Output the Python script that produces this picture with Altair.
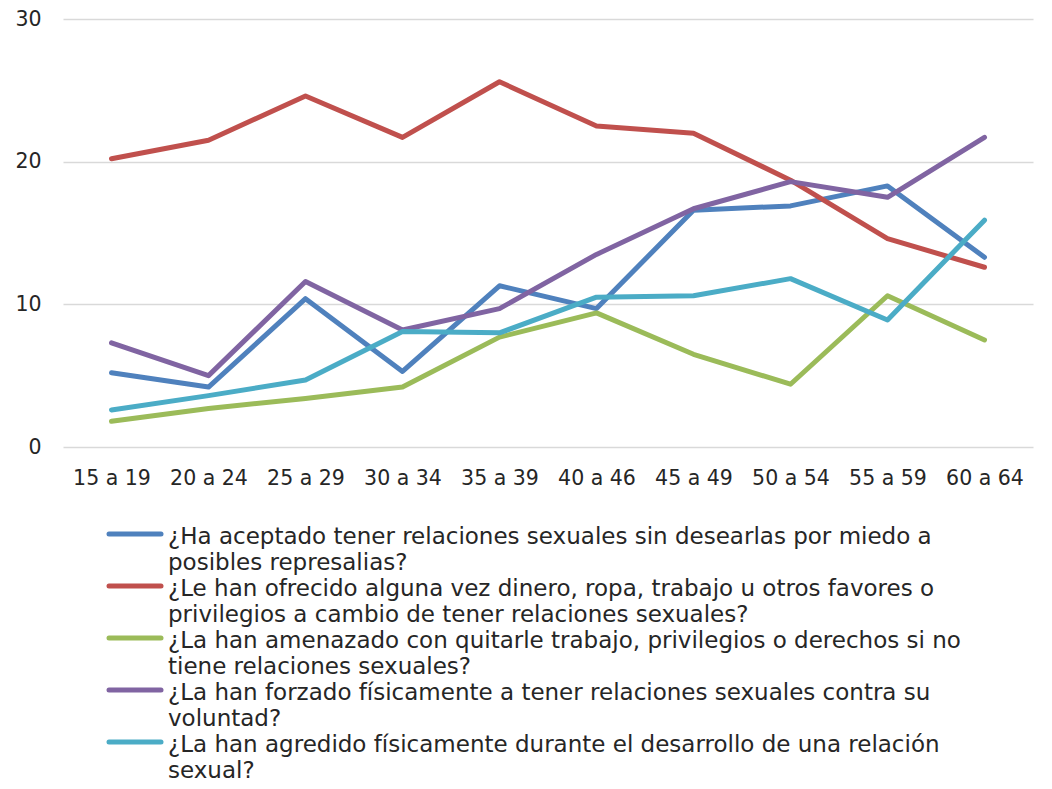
import altair as alt
import pandas as pd

categories = ["15 a 19", "20 a 24", "25 a 29", "30 a 34", "35 a 39",
              "40 a 46", "45 a 49", "50 a 54", "55 a 59", "60 a 64"]

series_names = [
    "¿Ha aceptado tener relaciones sexuales sin desearlas por miedo a|posibles represalias?",
    "¿Le han ofrecido alguna vez dinero, ropa, trabajo u otros favores o|privilegios a cambio de tener relaciones sexuales?",
    "¿La han amenazado con quitarle trabajo, privilegios o derechos si no|tiene relaciones sexuales?",
    "¿La han forzado físicamente a tener relaciones sexuales contra su|voluntad?",
    "¿La han agredido físicamente durante el desarrollo de una relación|sexual?",
]

aceptado = [5.2, 4.2, 10.4, 5.3, 11.3, 9.7, 16.6, 16.9, 18.3, 13.3]
ofrecido = [20.2, 21.5, 24.6, 21.7, 25.6, 22.5, 22.0, 18.7, 14.6, 12.6]
amenazado = [1.8, 2.7, 3.4, 4.2, 7.7, 9.4, 6.5, 4.4, 10.6, 7.5]
forzado = [7.3, 5.0, 11.6, 8.2, 9.7, 13.5, 16.7, 18.6, 17.5, 21.7]
agredido = [2.6, 3.6, 4.7, 8.1, 8.0, 10.5, 10.6, 11.8, 8.9, 15.9]

colors = ["#4f81bd", "#c0504d", "#9bbb59", "#8064a2", "#4bacc6"]

rows = []
for name, vals in zip(series_names, [aceptado, ofrecido, amenazado, forzado, agredido]):
    for c, v in zip(categories, vals):
        rows.append({"grupo": c, "valor": v, "serie": name})
df = pd.DataFrame(rows)
legend_df = pd.DataFrame({"serie": series_names})

FONT = "DejaVu Sans"
TXT = "#262626"

color_enc = alt.Color("serie:N", sort=series_names,
                      scale=alt.Scale(domain=series_names, range=colors),
                      legend=None)

lines = alt.Chart(df).mark_line(strokeWidth=5, strokeCap="round", strokeJoin="round").encode(
    x=alt.X("grupo:O", sort=categories, title=None,
            scale=alt.Scale(type="point", padding=0.5),
            axis=alt.Axis(labelAngle=0, domain=False, ticks=False, grid=False,
                          labelPadding=21, labelFontSize=20.5, labelColor=TXT, labelFont=FONT)),
    y=alt.Y("valor:Q", title=None,
            scale=alt.Scale(domain=[0, 30], nice=False),
            axis=alt.Axis(values=[0, 10, 20, 30], domain=False, ticks=False,
                          gridColor="#d9d9d9", gridWidth=1.5,
                          labelPadding=22, labelFontSize=20.5, labelColor=TXT, labelFont=FONT)),
    color=color_enc,
)

leg_y = alt.Y("serie:N", sort=series_names, axis=None,
              scale=alt.Scale(type="point", range=[515, 723], padding=0))

leg_sym = alt.Chart(legend_df).mark_rule(strokeWidth=5, strokeCap="round").encode(
    x=alt.value(46), x2=alt.value(98), y=leg_y, color=color_enc,
)
leg_txt = alt.Chart(legend_df).mark_text(
    align="left", baseline="top", dy=-8, lineBreak="|", lineHeight=26,
    font=FONT, fontSize=23, color=TXT,
).encode(
    x=alt.value(105), y=leg_y, text="serie:N",
)

legend = alt.layer(leg_sym, leg_txt)

chart = alt.layer(lines, legend).resolve_scale(y="independent").properties(
    width=970, height=428,
    padding={"left": 55, "top": 11, "right": 10, "bottom": 340},
    autosize=alt.AutoSizeParams(type="none"),
).configure_view(stroke=None)

chart.save("out.html", embed_options={"renderer": "svg", "actions": False})
